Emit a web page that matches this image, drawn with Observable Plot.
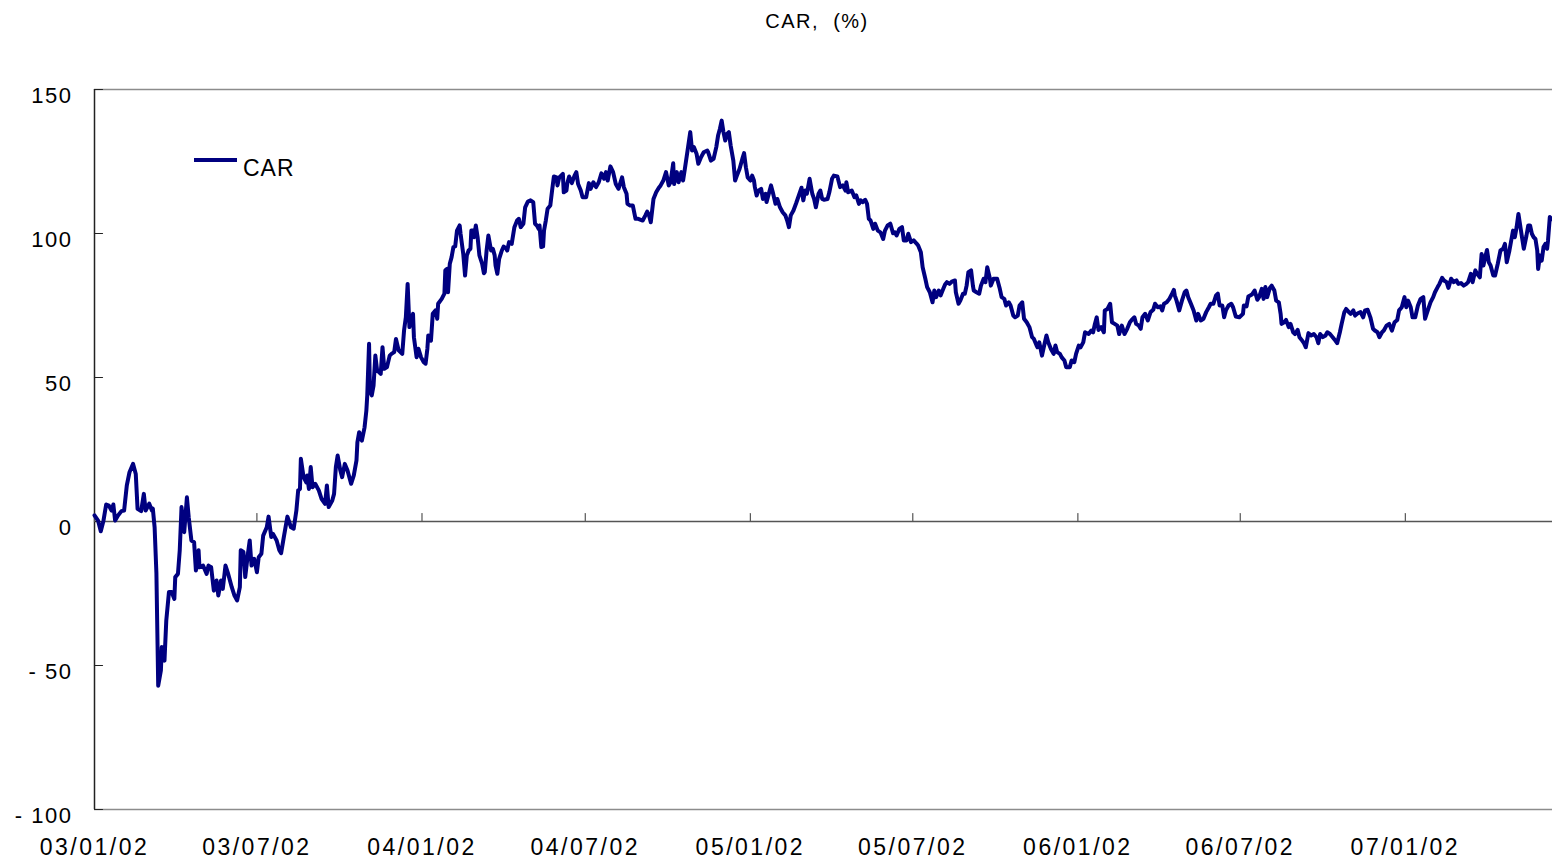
<!DOCTYPE html>
<html>
<head>
<meta charset="utf-8">
<script src="https://cdn.jsdelivr.net/npm/d3@7"></script>
<script src="https://cdn.jsdelivr.net/npm/@observablehq/plot@0.6"></script>
<style>
  html, body { margin: 0; padding: 0; background: #fff; }
  #wrap { position: relative; width: 1552px; height: 862px; font-family: "Liberation Sans", Arial, sans-serif; color: #000; }
  #title { position: absolute; left: 667px; width: 300px; top: 11px; text-align: center; font-size: 20px; line-height: 20px; letter-spacing: 1.5px; white-space: pre; }
  #legend-line { position: absolute; left: 194px; top: 158px; width: 43px; height: 4px; background: #000080; }
  #legend-text { position: absolute; left: 243px; top: 157px; font-size: 23px; line-height: 23px; letter-spacing: 1px; }
</style>
</head>
<body>
<div id="wrap">
  <div id="chart"></div>
  <div id="title">CAR,  (%)</div>
  <div id="legend-line"></div>
  <div id="legend-text">CAR</div>
</div>
<script>
// ---- data ----
const startDate = "2003-01-02";
const endDate = "2007-06-15";
// calendar-day offset of each observation from startDate
const dayOffsets = [
0,4,7,10,13,16,19,21,23,26,30,33,36,39,43,46,48,52,55,57,61,64,65,67,69,71,74,75,78,80,
83,86,89,90,93,95,97,100,103,105,108,111,113,116,117,121,125,127,130,133,136,138,141,143,146,149,153,156,159,162,
163,166,168,171,173,175,178,181,183,186,188,192,194,197,199,203,206,208,211,215,219,222,225,227,229,230,233,236,237,239,
241,243,246,250,253,257,259,261,265,267,269,271,274,276,279,282,286,289,292,293,295,298,301,303,304,306,307,309,311,313,
315,317,319,321,323,326,329,331,334,336,339,343,345,347,349,351,353,355,356,359,361,364,367,369,371,372,375,377,380,382,
383,387,390,391,393,394,396,398,400,402,404,407,408,411,413,415,417,419,420,422,423,425,427,429,432,434,435,437,439,442,
444,446,447,449,451,454,456,459,460,462,465,468,471,473,475,478,480,483,486,489,491,493,495,496,498,500,501,503,505,508,
510,512,515,516,518,520,522,523,526,527,529,532,535,537,539,542,544,548,551,553,556,559,562,565,568,570,572,575,578,581,
584,588,590,593,594,597,600,603,606,611,614,616,618,620,623,626,629,631,634,637,640,642,645,646,649,651,654,656,658,661,
664,666,668,671,673,676,679,683,684,687,690,693,695,697,699,701,703,705,707,709,712,714,716,719,722,724,726,728,731,733,
735,736,738,740,743,745,748,749,752,754,756,759,761,764,767,770,772,774,776,779,782,785,788,790,792,794,797,800,802,804,
807,809,811,813,817,819,822,824,828,831,834,837,838,840,844,847,849,852,854,856,859,861,863,865,868,870,873,876,879,881,
884,887,890,892,894,897,900,902,905,907,910,913,916,918,921,923,926,928,931,934,936,938,941,943,946,948,950,953,956,959,
960,963,965,968,970,972,974,977,979,980,983,986,988,991,993,995,998,999,1002,1006,1009,1011,1014,1016,1019,1021,1024,1026,1029,1031,
1034,1036,1039,1042,1045,1047,1050,1051,1053,1056,1058,1061,1063,1066,1069,1071,1073,1076,1078,1081,1083,1087,1089,1092,1094,1097,1099,1102,1104,1108,
1111,1113,1115,1117,1119,1122,1125,1126,1129,1132,1134,1137,1140,1142,1145,1148,1151,1154,1156,1159,1161,1164,1166,1168,1171,1174,1177,1180,1182,1185,
1188,1190,1192,1195,1198,1201,1203,1204,1206,1209,1212,1215,1217,1219,1222,1225,1228,1230,1233,1236,1239,1242,1244,1247,1250,1252,1254,1257,1259,1261,
1264,1267,1269,1272,1276,1280,1281,1284,1286,1290,1293,1296,1298,1301,1303,1305,1307,1310,1312,1315,1317,1320,1322,1323,1326,1328,1331,1333,1336,1338,
1341,1343,1346,1348,1350,1353,1356,1359,1362,1364,1366,1369,1372,1374,1377,1380,1383,1385,1388,1390,1393,1395,1398,1400,1403,1405,1408,1411,1414,1416,
1419,1422,1425,1427,1430,1432,1435,1437,1440,1443,1446,1449,1452,1454,1457,1460,1462,1464,1467,1469,1472,1475,1478,1481,1483,1486,1489,1492,1494,1497,
1499,1502,1504,1507,1509,1512,1515,1518,1520,1523,1526,1529,1531,1534,1536,1539,1541,1544,1546,1548,1550,1552,1554,1556,1559,1561,1564,1567,1570,1572,
1574,1577,1580,1581,1583,1585,1587,1589,1591,1593,1596,1598,1600,1602,1604,1606,1608,1609,1611,1613,1615,1617,1619,1620,1622,1624
];
// CAR value (%) of each observation
const carValues = [
2.1,0.3,-3.4,0.3,5.9,5.5,3.8,5.9,0.3,2.0,3.6,3.8,12.5,17.1,20.0,16.5,4.4,3.6,9.6,3.8,6.2,3.8,4.5,-2.0,-18.0,-57.0,-51.7,-43.6,-48.3,-34.4,
-24.5,-24.5,-26.9,-19.3,-18.2,-10.0,5.0,-3.7,8.4,1.5,-6.6,-7.2,-17.0,-10.0,-15.9,-15.3,-18.2,-15.3,-15.9,-24.0,-20.5,-25.7,-20.5,-23.4,-15.3,-18.2,-22.8,-25.7,-27.4,-22.8,
-10.0,-10.6,-19.3,-11.2,-6.6,-15.3,-13.0,-17.6,-12.4,-11.2,-4.9,-2.0,1.7,-5.4,-4.3,-6.6,-10.0,-11.0,-5.4,1.7,-2.0,-2.5,3.8,10.8,11.3,21.8,15.4,13.6,16.0,11.3,
18.9,11.9,13.1,10.8,7.9,6.1,12.5,5.0,7.3,9.6,18.9,22.9,17.7,15.4,20.0,17.7,13.1,16.0,21.2,27.5,31.0,28.1,32.7,38.5,43.8,61.7,45.5,43.8,47.2,57.6,
52.4,51.9,51.3,60.5,53.0,53.6,57.6,58.2,58.8,63.4,59.4,58.2,66.3,70.9,82.5,67.5,70.4,72.1,64.0,57.0,60.0,57.0,55.3,54.8,60.0,64.6,62.8,72.1,73.3,70.4,
75.6,77.3,79.1,87.2,87.7,79.6,89.5,91.8,95.3,95.5,101.0,102.8,99.9,92.9,85.4,92.4,94.1,94.7,101.0,101.0,98.7,102.8,98.7,92.4,89.5,86.2,86.6,94.1,99.3,94.1,
94.7,92.4,88.9,86.0,91.2,94.1,95.5,94.7,94.1,97.0,96.4,102.2,104.5,105.1,102.2,103.4,109.1,111.1,111.5,110.9,103.4,102.8,101.6,102.8,95.3,95.5,101.0,104.5,108.6,109.7,
114.9,119.8,119.5,116.7,119.5,120.1,120.7,114.3,114.9,117.5,119.8,117.5,120.1,121.3,117.2,114.9,112.6,112.6,117.5,115.5,117.8,116.1,117.8,120.9,119.0,121.3,118.4,123.3,121.3,117.2,
115.5,119.5,116.1,113.8,110.3,109.7,109.7,105.1,105.1,104.5,106.3,107.6,106.3,103.9,112.0,114.3,115.9,116.7,118.4,121.3,116.7,117.8,124.4,117.2,121.3,117.8,121.3,118.4,122.5,128.8,
135.2,128.8,130.0,127.7,124.2,126.5,128.2,128.8,128.2,125.3,125.9,130.0,134.0,136.3,139.2,135.2,132.3,134.6,135.2,130.6,125.3,118.4,120.1,122.5,125.9,127.9,123.0,119.5,118.4,120.1,
118.4,116.1,113.2,114.9,115.5,112.0,113.8,110.9,114.3,116.7,114.3,110.3,112.0,109.1,107.4,106.3,104.5,102.2,106.3,108.0,110.5,113.2,115.9,111.5,114.9,113.8,119.0,113.8,112.0,109.1,
113.8,114.9,112.0,111.7,112.0,114.3,119.0,120.1,119.8,116.1,116.7,114.9,117.8,114.3,114.9,112.6,113.2,110.3,111.5,110.9,111.7,110.3,105.1,104.5,101.6,103.4,101.0,100.4,98.1,101.0,
102.8,103.4,100.1,100.4,99.3,101.6,102.2,97.6,97.6,99.9,97.0,97.6,96.6,95.8,93.5,88.3,84.3,81.4,79.6,76.1,80.2,77.9,80.2,78.5,80.8,82.3,83.1,82.5,83.4,83.7,
79.6,75.6,76.7,79.1,79.1,81.9,86.6,87.2,81.9,80.2,79.6,79.1,81.9,84.3,83.1,88.3,84.3,81.9,84.3,84.3,80.8,77.9,77.3,75.0,76.1,75.0,71.5,70.9,71.5,75.0,
76.1,70.4,69.2,67.5,64.0,63.4,61.1,60.5,62.2,57.6,60.5,64.6,62.2,59.9,58.2,61.1,58.8,58.2,57.0,55.9,53.6,53.6,55.9,55.3,58.2,61.1,60.5,62.2,65.7,65.1,
66.3,65.7,68.6,70.9,66.5,67.5,65.7,73.3,73.8,75.6,69.2,68.6,68.0,65.1,68.0,65.1,66.9,69.2,70.0,70.9,68.6,68.0,66.9,70.9,72.1,69.8,72.7,73.5,75.6,74.4,
74.7,73.3,75.6,76.1,77.3,79.1,80.4,78.5,76.7,73.3,76.7,79.6,80.2,77.9,75.6,73.3,69.8,72.1,69.8,70.4,72.7,74.4,75.6,75.6,78.5,79.1,75.0,75.0,70.9,73.3,
75.0,75.6,74.4,71.2,70.9,72.1,75.0,74.7,78.1,78.8,80.2,77.0,77.9,80.8,77.3,81.4,77.9,81.1,81.9,80.2,76.7,76.1,72.1,68.6,69.2,70.0,67.5,68.6,65.7,65.1,
66.5,64.0,62.8,61.9,60.5,65.4,64.6,65.1,64.0,61.9,65.1,64.0,64.6,65.7,65.1,64.0,62.8,61.9,65.7,68.6,72.7,73.8,72.7,72.1,73.3,71.5,72.3,72.7,70.9,73.3,
73.5,70.9,66.9,66.3,65.7,64.0,65.7,66.3,68.0,68.6,66.3,69.2,70.0,73.3,74.4,77.9,74.4,76.7,74.4,70.9,70.9,75.0,77.3,77.9,70.4,73.3,76.1,77.9,79.6,81.4,
82.5,84.6,83.7,83.1,81.1,84.3,83.1,83.7,82.5,82.8,81.9,82.5,83.1,86.0,83.1,87.2,86.0,84.8,92.9,88.9,91.8,94.3,90.0,88.9,85.4,85.4,89.5,94.1,94.7,96.4,
90.0,94.1,99.3,101.0,98.7,102.2,106.8,102.8,98.7,94.7,99.3,102.8,102.8,99.9,98.7,98.1,94.1,87.7,92.4,90.6,95.3,96.4,94.7,97.6,105.7,105.0
];
const xTickDates = ["2003-01-02","2003-07-02","2004-01-02","2004-07-02","2005-01-02","2005-07-02","2006-01-02","2006-07-02","2007-01-02"];
const xTickLabels = ["03/01/02","03/07/02","04/01/02","04/07/02","05/01/02","05/07/02","06/01/02","06/07/02","07/01/02"];
const yTicks = [150, 100, 50, 0, -50, -100];
const yTickLabels = ["150", "100", "50", "0", "- 50", "- 100"];

// ---- build ----
const start = new Date(startDate + "T00:00:00Z");
const end = new Date(endDate + "T00:00:00Z");
const series = dayOffsets.map((d, i) => ({ date: d3.utcDay.offset(start, d), car: carValues[i] }));
const xTicks = xTickDates.map(s => new Date(s + "T00:00:00Z"));
const xLabel = d => xTickLabels[xTicks.findIndex(t => +t === +d)];
const yLabel = v => yTickLabels[yTicks.indexOf(v)];
const tickShape = { draw(context, l) { context.moveTo(0, 0); context.lineTo(0, -l); } };

const chart = Plot.plot({
  width: 1552,
  height: 862,
  marginTop: 89,
  marginBottom: 53,
  marginLeft: 94,
  marginRight: 0,
  style: { fontFamily: "'Liberation Sans', Arial, sans-serif", background: "#fff", color: "#000", overflow: "visible" },
  x: { type: "utc", domain: [start, end], label: null },
  y: { domain: [-100, 150], label: null },
  marks: [
    Plot.ruleY([150, -100], { stroke: "#8c8c8c", strokeWidth: 1.5 }),
    Plot.ruleY([0], { stroke: "#555", strokeWidth: 1.5 }),
    Plot.ruleX([start], { stroke: "#222", strokeWidth: 1.5 }),
    Plot.vector(yTicks, { x: () => start, y: d => d, length: 8, rotate: 90, anchor: "start", shape: tickShape, stroke: "#222", strokeWidth: 1.2 }),
    Plot.vector(xTicks, { x: d => d, y: () => 0, length: 8, rotate: 0, anchor: "start", shape: tickShape, stroke: "#555", strokeWidth: 1.2 }),
    Plot.axisY(yTicks, { anchor: "left", label: null, tickSize: 0, tickPadding: 22, tickFormat: yLabel, fontSize: 22, dy: 6, fill: "#000" }),
    Plot.axisX(xTicks, { anchor: "bottom", label: null, tickSize: 0, tickPadding: 29, tickFormat: xLabel, fontSize: 23, fill: "#000" }),
    Plot.line(series, { x: "date", y: "car", stroke: "#000080", strokeWidth: 4, strokeLinejoin: "round", strokeLinecap: "round" })
  ]
});
document.getElementById("chart").appendChild(chart);
d3.select(chart).selectAll('g[aria-label="x-axis tick label"] text').attr("letter-spacing", "2.5px");
d3.select(chart).selectAll('g[aria-label="y-axis tick label"] text').attr("letter-spacing", "1.5px");
</script>
</body>
</html>
